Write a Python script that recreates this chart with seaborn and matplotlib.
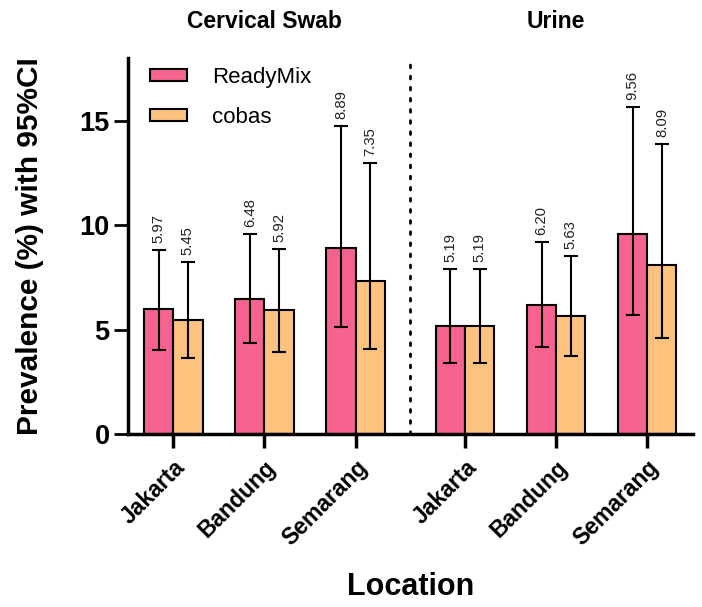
import matplotlib
matplotlib.use("Agg")
import matplotlib.pyplot as plt
import pandas as pd
import seaborn as sns

# data
locations = ["Jakarta", "Bandung", "Semarang", "Jakarta", "Bandung", "Semarang"]
positions = [0, 1, 2, 3.2, 4.2, 5.2]   # gap between the two specimen groups
groups = ["Cervical Swab", "Urine"]
group_centers = [1, 4.2]

readymix = [5.97, 6.48, 8.89, 5.19, 6.20, 9.56]
readymix_lo = [4.02, 4.35, 5.12, 3.40, 4.16, 5.69]
readymix_hi = [8.80, 9.57, 14.74, 7.89, 9.19, 15.65]

cobas = [5.45, 5.92, 7.35, 5.19, 5.63, 8.09]
cobas_lo = [3.64, 3.92, 4.07, 3.40, 3.73, 4.59]
cobas_hi = [8.23, 8.85, 12.97, 7.89, 8.52, 13.88]

colors = {"ReadyMix": "#F7638F", "cobas": "#FEC27F"}

df = pd.DataFrame({
    "pos": positions * 2,
    "value": readymix + cobas,
    "lo": readymix_lo + cobas_lo,
    "hi": readymix_hi + cobas_hi,
    "assay": ["ReadyMix"] * 6 + ["cobas"] * 6,
})

sns.set_style("ticks")
plt.rcParams["font.family"] = ["Liberation Sans", "DejaVu Sans"]
for k in ["text.color", "axes.labelcolor", "xtick.color", "ytick.color",
          "axes.edgecolor"]:
    plt.rcParams[k] = "black"

fig = plt.figure(figsize=(7.02, 6.07), dpi=100)
ax = fig.add_axes([0.182, 0.285, 0.805, 0.619])

sns.barplot(data=df, x="pos", y="value", hue="assay", native_scale=True,
            palette=colors, saturation=1, width=0.64, errorbar=None,
            edgecolor="black", linewidth=1.5, ax=ax)

# asymmetric 95% CI bars and value labels
for cont, name in zip(ax.containers, ["ReadyMix", "cobas"]):
    sub = df[df["assay"] == name]
    for bar, (_, row) in zip(cont, sub.iterrows()):
        xc = bar.get_x() + bar.get_width() / 2
        ax.errorbar(xc, row["value"],
                    yerr=[[row["value"] - row["lo"]], [row["hi"] - row["value"]]],
                    fmt="none", ecolor="black", elinewidth=1.5,
                    capsize=4.7, capthick=1.5, zorder=3)
        ax.text(xc, row["hi"] + 0.35, f"{row['value']:.2f}", rotation=90,
                ha="center", va="bottom", fontsize=10.7, color="#222222")

# dotted separator between specimen types
ax.axvline(2.6, color="black", linestyle=(0, (1, 3)), linewidth=2,
           dash_capstyle="round")

for g, c in zip(groups, group_centers):
    ax.text(c, 1.098, g, transform=ax.get_xaxis_transform(), ha="center",
            va="center", fontsize=16.5, fontweight="bold")

ax.set_xlim(-0.5, 5.7)
ax.set_ylim(0, 18)
ax.set_yticks([0, 5, 10, 15])
ax.set_xticks(positions)
ax.set_xticklabels(locations, rotation=45, ha="right", rotation_mode="anchor",
                   fontsize=16.5, fontweight="bold")
for lab in ax.get_yticklabels():
    lab.set_fontsize(19.5)
    lab.set_fontweight("bold")
ax.tick_params(axis="y", length=10, width=2, pad=3)
ax.tick_params(axis="x", length=10, width=2.5, pad=6)

ax.set_xlabel("Location", fontsize=22, fontweight="bold")
ax.set_ylabel("Prevalence (%) with 95%CI", fontsize=21.5, fontweight="bold")
ax.xaxis.set_label_coords(0.5, -0.368)
ax.yaxis.set_label_coords(-0.148, 0.5)

sns.despine(ax=ax)
for s in ["left", "bottom"]:
    ax.spines[s].set_linewidth(2.5)

handles, labels = ax.get_legend_handles_labels()
ax.legend(handles, labels, loc="upper left", frameon=False, fontsize=16,
          handlelength=1.7, handleheight=0.45, labelspacing=0.85,
          handletextpad=1.1, borderaxespad=0, bbox_to_anchor=(0.023, 1.0))

fig.savefig("out.png", dpi=100)
